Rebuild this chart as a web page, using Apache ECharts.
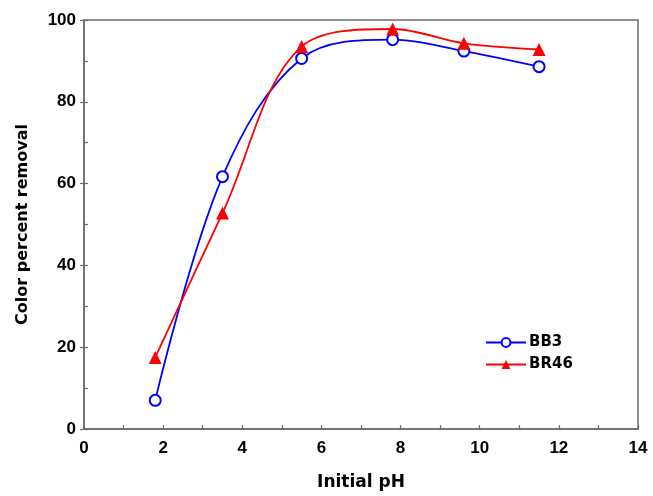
<!DOCTYPE html>
<html><head><meta charset="utf-8">
<script src="https://cdn.jsdelivr.net/npm/echarts@6/dist/echarts.min.js"></script>
<style>html,body{margin:0;padding:0;background:#fff}#c{width:653px;height:496px}</style>
</head><body><div id="c"></div>
<script>
var phValues = [1.8, 3.5, 5.5, 7.8, 9.6, 11.5];
var bb3 = [7.0, 61.7, 90.6, 95.2, 92.4, 88.6];
var br46 = [17.5, 52.8, 93.5, 97.8, 94.3, 92.8];
var seriesNames = ['BB3', 'BR46'];
var xTitle = 'Initial pH';
var yTitle = 'Color percent removal';

function pairs(xs, ys) { return xs.map(function (x, i) { return [x, ys[i]]; }); }
var FONT = "Liberation Sans, Arial, sans-serif";
var TFONT = "DejaVu Sans, sans-serif";
var axisCol = '#6b6b6b';
var chart = echarts.init(document.getElementById('c'), null, {renderer: 'canvas'});
chart.setOption({
  animation: false,
  backgroundColor: '#fff',
  grid: {left: 84, right: 15, top: 20, bottom: 63, show: true, borderColor: axisCol, borderWidth: 1.5},
  legend: {
    orient: 'vertical', left: 480, top: 330, itemWidth: 40, itemHeight: 11, itemGap: 7,
    textStyle: {fontFamily: TFONT, fontWeight: 'bold', fontSize: 15, color: '#000', padding: [0, 0, 0, -2]},
    data: seriesNames
  },
  xAxis: {
    type: 'value', min: 0, max: 14, interval: 1,
    name: xTitle, nameLocation: 'middle', nameGap: 45,
    nameTextStyle: {fontFamily: TFONT, fontWeight: 'bold', fontSize: 17, color: '#000'},
    axisLine: {show: true, lineStyle: {color: axisCol, width: 1.5}},
    axisTick: {show: true, inside: true, length: 4, lineStyle: {color: axisCol, width: 1.2}},
    axisLabel: {fontFamily: FONT, fontWeight: 'bold', fontSize: 17, color: '#000', margin: 11,
      formatter: function (v) { return v % 2 === 0 ? String(v) : ''; }},
    splitLine: {show: false}
  },
  yAxis: [{
    type: 'value', min: 0, max: 100, interval: 20,
    name: yTitle, nameLocation: 'middle', nameGap: 53, nameRotate: 90,
    nameTextStyle: {fontFamily: TFONT, fontWeight: 'bold', fontSize: 16, color: '#000'},
    axisLine: {show: true, lineStyle: {color: axisCol, width: 1.5}},
    axisTick: {show: true, inside: false, length: 4, lineStyle: {color: axisCol, width: 1.2}},
    axisLabel: {fontFamily: FONT, fontWeight: 'bold', fontSize: 17, color: '#000', margin: 8},
    splitLine: {show: false}
  }, {
    type: 'value', min: 0, max: 100, interval: 10, position: 'left',
    axisLine: {show: false},
    axisTick: {show: true, inside: true, length: 4, lineStyle: {color: axisCol, width: 1.2}},
    axisLabel: {show: false},
    splitLine: {show: false}
  }],
  series: [{
    name: seriesNames[0], type: 'line', smooth: 0.35,
    data: pairs(phValues, bb3),
    symbol: 'emptyCircle', symbolSize: 11,
    lineStyle: {color: '#0000ff', width: 1.8},
    itemStyle: {color: '#0000ff', borderColor: '#0000ff', borderWidth: 1.8}
  }, {
    name: seriesNames[1], type: 'line', smooth: 0.35,
    data: pairs(phValues, br46),
    symbol: 'triangle', symbolSize: 13,
    lineStyle: {color: '#ff0000', width: 1.8},
    itemStyle: {color: '#ff0000'}
  }]
});
</script></body></html>
